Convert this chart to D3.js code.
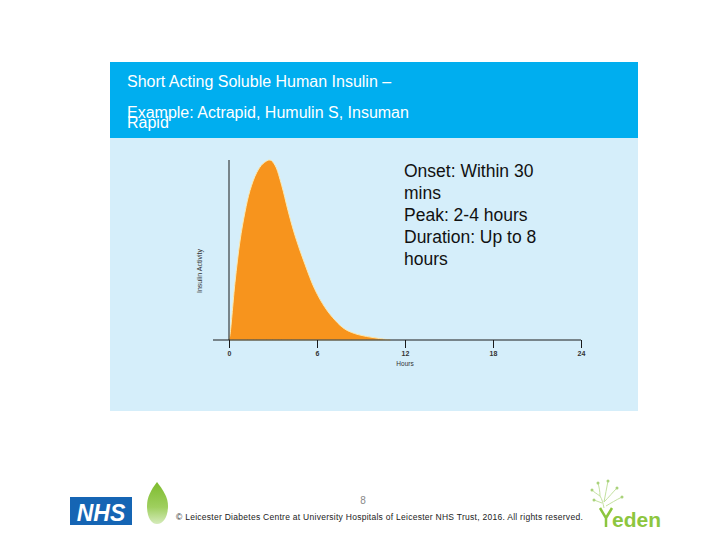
<!DOCTYPE html>
<html>
<head>
<meta charset="utf-8">
<script src="https://cdn.jsdelivr.net/npm/d3@7"></script>
<style>
  body { margin: 0; background: #fff; }
  svg text { font-family: "Liberation Sans", Arial, sans-serif; }
</style>
</head>
<body>
<div id="chart"></div>
<script>
/**
 * DATA
 * */
const hours = [0, 0.07, 0.41, 0.75, 1.09, 1.43, 1.89, 2.32, 2.8, 3.14, 3.59, 4.02, 4.5, 5.18, 5.86, 6.55, 7.23, 7.91, 8.8, 9.95, 11];
const activity = [0, 0.03, 0.32, 0.55, 0.71, 0.83, 0.93, 0.98, 1.0, 0.97, 0.86, 0.72, 0.58, 0.42, 0.28, 0.18, 0.11, 0.06, 0.03, 0.012, 0];
const xTicks = [0, 6, 12, 18, 24];
const titleLines = ["Short Acting Soluble Human Insulin \u2013"];
const exampleLines = ["Example: Actrapid, Humulin S, Insuman", "Rapid"];
const noteLines = ["Onset: Within 30", "mins", "Peak: 2-4 hours", "Duration: Up to 8", "hours"];
const footerText = "\u00A9 Leicester Diabetes Centre at University Hospitals of Leicester NHS Trust, 2016.  All rights reserved.";

const width = 720, height = 540;

const svg = d3.select("#chart").append("svg")
  .attr("width", width)
  .attr("height", height);

// panel backgrounds
svg.append("rect").attr("x", 110).attr("y", 138).attr("width", 528).attr("height", 273).attr("fill", "#d5eefa");
svg.append("rect").attr("x", 110).attr("y", 62).attr("width", 528).attr("height", 76).attr("fill", "#00aeef");

// header text
svg.selectAll("text.title").data(titleLines).join("text")
  .attr("class", "title")
  .attr("x", 127).attr("y", 87)
  .attr("fill", "#fff").attr("font-size", 16)
  .text(d => d);
svg.selectAll("text.example").data(exampleLines).join("text")
  .attr("class", "example")
  .attr("x", 127).attr("y", (d, i) => 118 + i * 10)
  .attr("fill", "#fff").attr("font-size", 16)
  .text(d => d);

// scales
const x = d3.scaleLinear().domain([0, 24]).range([229, 581]);
const y = d3.scaleLinear().domain([0, 1]).range([340, 160]);

const data = hours.map((h, i) => ({ h, v: activity[i] }));

const area = d3.area()
  .x(d => x(d.h))
  .y0(y(0))
  .y1(d => Math.min(y(d.v), y(0)))
  .curve(d3.curveCatmullRom.alpha(0.5));

svg.append("path")
  .datum(data)
  .attr("d", area)
  .attr("fill", "#f7941d")
  .attr("stroke", "#fbe9b0")
  .attr("stroke-width", 1);

// axes
const xAxis = svg.append("g")
  .attr("transform", `translate(0,${y(0)})`)
  .call(d3.axisBottom(x).tickValues(xTicks).tickSize(8).tickPadding(3));
xAxis.select(".domain").attr("d", `M213,0H${x(24)}`).attr("stroke", "#1a1a1a");
xAxis.selectAll(".tick line").attr("stroke", "#1a1a1a");
xAxis.selectAll(".tick text")
  .attr("font-size", 7).attr("font-weight", "bold").attr("fill", "#333")
  .attr("font-family", "'DejaVu Sans', sans-serif");

svg.append("line")
  .attr("x1", x(0)).attr("x2", x(0))
  .attr("y1", y(0)).attr("y2", y(1))
  .attr("stroke", "#1a1a1a");

svg.append("text")
  .attr("x", x(12)).attr("y", 366)
  .attr("text-anchor", "middle")
  .attr("font-size", 6.5).attr("fill", "#333")
  .attr("font-family", "'DejaVu Sans', sans-serif")
  .text("Hours");

svg.append("text")
  .attr("transform", "translate(202,271) rotate(-90)")
  .attr("text-anchor", "middle")
  .attr("font-size", 7).attr("fill", "#333")
  .attr("font-family", "'DejaVu Sans', sans-serif")
  .text("Insulin Activity");

// annotation
svg.selectAll("text.note").data(noteLines).join("text")
  .attr("class", "note")
  .attr("x", 404).attr("y", (d, i) => 177 + i * 22)
  .attr("fill", "#111").attr("font-size", 17.5)
  .text(d => d);

// footer
svg.append("text")
  .attr("x", 363).attr("y", 504)
  .attr("text-anchor", "middle")
  .attr("font-size", 10).attr("fill", "#888")
  .text("8");
svg.append("text")
  .attr("x", 176).attr("y", 520)
  .attr("font-size", 8.5).attr("letter-spacing", 0.27).attr("fill", "#222")
  .text(footerText);

// NHS logo
svg.append("rect").attr("x", 70).attr("y", 497).attr("width", 62).attr("height", 28).attr("fill", "#1565b4");
svg.append("text")
  .attr("x", 101).attr("y", 521)
  .attr("text-anchor", "middle")
  .attr("font-size", 23).attr("font-weight", "bold").attr("font-style", "italic")
  .attr("fill", "#fff").text("NHS");

// leaf
const grad = svg.append("defs").append("linearGradient")
  .attr("id", "leaf").attr("x1", 0).attr("x2", 0).attr("y1", 0).attr("y2", 1);
grad.append("stop").attr("offset", "0%").attr("stop-color", "#7dbb2d");
grad.append("stop").attr("offset", "60%").attr("stop-color", "#9fcf5f");
grad.append("stop").attr("offset", "100%").attr("stop-color", "#d5ebbb");
svg.append("path")
  .attr("d", "M157,482 C151,490 147,497 147,506 C147,517 151,524 157,524 C163,524 168,517 168,506 C168,497 163,490 157,482 Z")
  .attr("fill", "url(#leaf)");

// eden logo
const tree = svg.append("g").attr("stroke", "#c3e19f").attr("stroke-width", 1).attr("fill", "none");
tree.append("path").attr("d",
  "M604,508 C603,503 602,499 600,496 " +
  "M600,496 C597,494 594,492 592,490 M600,496 C600,491 599,487 598,483 " +
  "M604,502 C605,495 607,488 608,481 M604,502 C609,497 613,492 617,488 " +
  "M606,506 C611,503 616,500 622,497 M602,503 C599,502 597,501 594,500");
tree.append("path").attr("d", "M600,508 L606,518 L606,527 M612,508 L606,518")
  .attr("stroke", "#8dc63f").attr("stroke-width", 2.5);
svg.selectAll("circle.bud").data([[592, 490], [598, 483], [608, 481], [617, 488], [622, 497], [594, 500]]).join("circle")
  .attr("class", "bud")
  .attr("cx", d => d[0]).attr("cy", d => d[1]).attr("r", 1.5).attr("fill", "#a9d27a");
svg.append("text")
  .attr("x", 612).attr("y", 527)
  .attr("font-size", 21).attr("font-weight", "bold").attr("fill", "#8dc63f")
  .text("eden");
</script>
</body>
</html>
